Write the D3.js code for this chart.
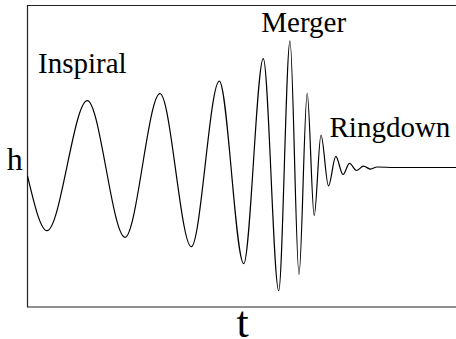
<!DOCTYPE html>
<html>
<head>
<meta charset="utf-8">
<script src="https://cdn.jsdelivr.net/npm/d3@7"></script>
<style>
  html, body { margin: 0; padding: 0; background: #fff; }
  svg { display: block; }
  text { font-family: "Liberation Serif", "Times New Roman", serif; fill: #000; }
</style>
</head>
<body>
<svg id="chart" width="456" height="339"></svg>
<script>
// Waveform samples (time, strain): extrema of the signal
const times = [0, 19.5, 59.8, 97.5, 132.5, 163.8, 191.8, 216.2, 235.8, 251.2, 262.5, 271.5,
               279.7, 286.7, 293.5, 301, 308.3, 315.5, 322, 329, 336, 343, 349.5, 367.5, 428.5];
const strain = [-0.065, -0.486, 0.514, -0.537, 0.568, -0.609, 0.665, -0.740, 0.837, -0.948, 0.975, -0.822,
                0.571, -0.369, 0.25, -0.142, 0.085, -0.054, 0.032, -0.023, 0.010, -0.012, 0.004, 0, 0];
const phaseLabels = ["Inspiral", "Merger", "Ringdown"];
const axisLabels = ["t", "h"];

const svg = d3.select("#chart");
const frame = { left: 27.5, top: 5.5, bottom: 307, right: 470 };

const x = d3.scaleLinear().domain([0, 430]).range([27.5, 457.5]);
const y = d3.scaleLinear().domain([-1, 1]).range([297.5, 37.5]);

// frame (open to the right, clipped by window)
svg.append("path")
  .attr("d", `M${frame.right},${frame.top}H${frame.left}V${frame.bottom}H${frame.right}`)
  .attr("fill", "none")
  .attr("stroke", "#222")
  .attr("stroke-width", 1.2);

const data = times.map((t, i) => ({ t, h: strain[i] }));
const line = d3.line()
  .x(d => x(d.t))
  .y(d => y(d.h))
  .curve(d3.curveMonotoneX);

svg.append("path")
  .datum(data)
  .attr("d", line)
  .attr("fill", "none")
  .attr("stroke", "#000")
  .attr("stroke-width", 1.2);

// phase labels
const labelPos = [
  { x: 38, y: 73.3 },
  { x: 261.3, y: 32.3 },
  { x: 329.5, y: 136.7 }
];
svg.selectAll("text.phase")
  .data(phaseLabels)
  .join("text")
  .attr("class", "phase")
  .attr("x", (d, i) => labelPos[i].x)
  .attr("y", (d, i) => labelPos[i].y)
  .attr("font-size", 29)
  .text(d => d);

// axis labels
svg.append("text")
  .attr("x", 236.5)
  .attr("y", 336.5)
  .attr("font-size", 44)
  .text(axisLabels[0]);

svg.append("text")
  .attr("x", 6.8)
  .attr("y", 170)
  .attr("font-size", 32)
  .text(axisLabels[1]);
</script>
</body>
</html>
